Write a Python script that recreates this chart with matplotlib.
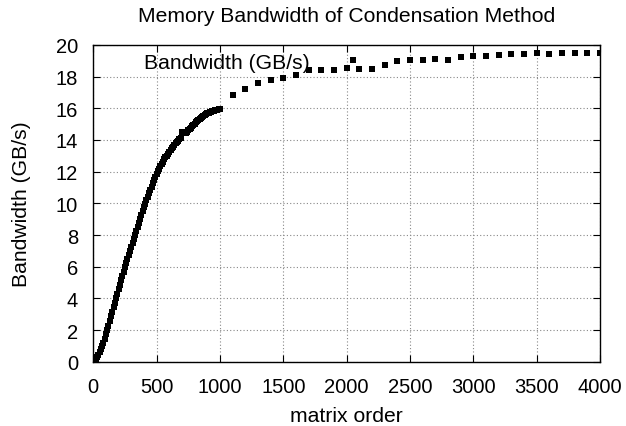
import matplotlib
matplotlib.use("Agg")
import matplotlib.pyplot as plt

plt.rcParams['font.family'] = ['Liberation Sans', 'DejaVu Sans']

# Dense measurements (matrix order 0..1000, step 10)
dense_order = list(range(0, 1001, 10))
dense_bw = [
    0.00, 0.06, 0.16, 0.30, 0.45, 0.60, 0.78, 0.96, 1.20, 1.46,
    1.72, 2.00, 2.28, 2.57, 2.86, 3.15, 3.44, 3.73, 4.02, 4.30,
    4.58, 4.86, 5.14, 5.42, 5.69, 5.96, 6.23, 6.49, 6.75, 7.01,
    7.27, 7.52, 7.77, 8.02, 8.27, 8.52, 8.77, 9.02, 9.27, 9.51,
    9.75, 9.98, 10.20, 10.42, 10.64, 10.85, 11.06, 11.26, 11.46, 11.65,
    11.84, 12.02, 12.19, 12.35, 12.50, 12.64, 12.77, 12.90, 13.02, 13.14,
    13.26, 13.37, 13.48, 13.58, 13.68, 13.78, 13.87, 13.96, 14.05, 14.12,
    14.50, 14.50, 14.50, 14.45, 14.52, 14.60, 14.68, 14.78, 14.87, 14.96,
    15.04, 15.12, 15.19, 15.26, 15.33, 15.40, 15.46, 15.52, 15.58, 15.63,
    15.68, 15.72, 15.76, 15.79, 15.82, 15.85, 15.87, 15.89, 15.91, 15.93,
    15.95,
]

# Sparse measurements (1100..4000, step 100)
sparse_order = list(range(1100, 4001, 100))
sparse_bw = [
    16.87, 17.23, 17.59, 17.81, 17.94, 18.13, 18.41, 18.45, 18.45, 18.55,
    18.51, 18.51, 18.72, 19.00, 19.08, 19.08, 19.14, 19.04, 19.23, 19.33,
    19.33, 19.39, 19.44, 19.46, 19.48, 19.46, 19.48, 19.52, 19.52, 19.52,
]

order = dense_order + sparse_order
bw = dense_bw + sparse_bw

xticks = [0, 500, 1000, 1500, 2000, 2500, 3000, 3500, 4000]
yticks = [0, 2, 4, 6, 8, 10, 12, 14, 16, 18, 20]

FS_TICK = 14.5
FS_TEXT = 15.2

fig = plt.figure(figsize=(6.26, 4.27), dpi=100)
ax = fig.add_axes([0.149, 0.1506, 0.8095, 0.7417])

ax.plot(order, bw, linestyle='none', marker='s', markersize=4.6,
        color='black', markeredgewidth=0, label='Bandwidth (GB/s)')

ax.set_xlim(0, 4000)
ax.set_ylim(0, 20)
ax.set_xticks(xticks)
ax.set_yticks(yticks)
ax.tick_params(direction='in', top=True, right=True, length=5, width=0.8,
               labelsize=FS_TICK)
ax.tick_params(axis='x', pad=11)
ax.tick_params(axis='y', pad=11)
ax.grid(True, color='#888888', linestyle=(0, (1, 2)), linewidth=0.8)
for s in ax.spines.values():
    s.set_linewidth(1.0)
    s.set_color('black')

fig.text(346.7 / 626, 1 - 17 / 427, 'Memory Bandwidth of Condensation Method',
         fontsize=FS_TEXT, ha='center', va='center')
ax.set_xlabel('matrix order', fontsize=FS_TEXT, labelpad=7)
ax.set_ylabel('Bandwidth (GB/s)', fontsize=FS_TEXT, labelpad=18)

ax.legend(loc='center left', bbox_to_anchor=(0.100, 0.946), frameon=False,
          markerfirst=False, fontsize=FS_TEXT, handlelength=2.0,
          handletextpad=1.04, borderpad=0, borderaxespad=0)

fig.savefig('out.png', dpi=100)
